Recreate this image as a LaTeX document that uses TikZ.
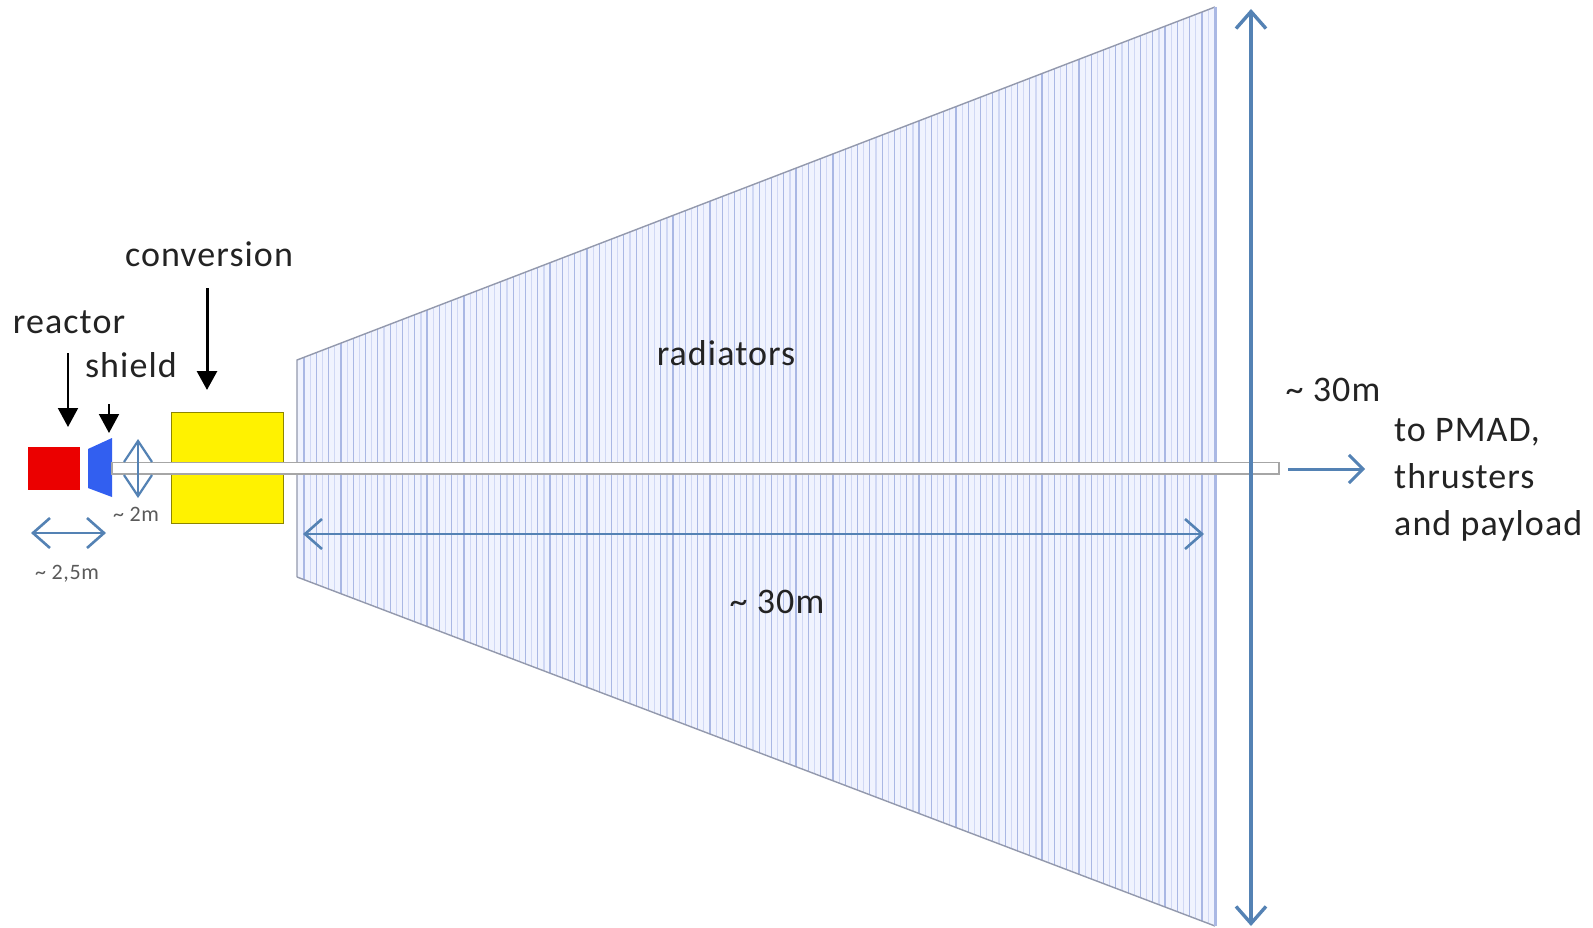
\documentclass[tikz,border=0pt]{standalone}
\usepackage{fontspec}
\setmainfont[LetterSpace=3]{Carlito}
\usetikzlibrary{arrows.meta}
\definecolor{dimblue}{RGB}{84,130,180}
\definecolor{hatchblue}{RGB}{170,184,228}
\definecolor{hatchpale}{RGB}{208,216,244}
\definecolor{panelblue}{RGB}{240,243,254}
\definecolor{shieldblue}{RGB}{50,95,240}
\definecolor{txt}{RGB}{35,35,35}
\tikzset{
 x=1pt,y=-1pt,
 lab/.style={inner sep=0pt,text=txt,font=\fontsize{36}{47.3}\selectfont,align=left},
 smalllab/.style={inner sep=0pt,text=txt!75,font=\fontsize{22}{26}\selectfont},
 dim/.style={draw=dimblue,line width=3.4pt,{Straight Barb[length=17pt,width=30pt,line width=3.4pt]}-{Straight Barb[length=17pt,width=30pt,line width=3.4pt]}},
 dimmid/.style={draw=dimblue,line width=2.6pt,{Straight Barb[length=17pt,width=30pt,line width=2.6pt]}-{Straight Barb[length=17pt,width=30pt,line width=2.6pt]}},
 dimthin/.style={draw=dimblue,line width=2.2pt,{Straight Barb[length=21pt,width=28pt,line width=2.2pt]}-{Straight Barb[length=21pt,width=28pt,line width=2.2pt]}},
 dimone/.style={draw=dimblue,line width=3pt,-{Straight Barb[length=14pt,width=28pt,line width=3pt]}},
 pointer/.style={draw=black,line width=3pt,-{Triangle[length=19pt,width=20pt]}},
 pointerthin/.style={draw=black,line width=2pt,-{Triangle[length=19pt,width=20pt]}},
 hatch/.style={draw=hatchblue,line width=1.2pt},
 hatchlight/.style={draw=hatchpale,line width=1.2pt},
}
\begin{document}
\begin{tikzpicture}
\useasboundingbox (0,0) rectangle (1593,928);
\fill[white] (0,0) rectangle (1593,928);
% radiators
\fill[panelblue] (297,360) -- (1215,7) -- (1215,926) -- (297,577) -- cycle;
\begin{scope}
\clip (297,360) -- (1215,7) -- (1215,926) -- (297,577) -- cycle;
\foreach \i in {0,...,74}{
  \pgfmathsetmacro{\xx}{304+12.3*\i}
  \pgfmathsetmacro{\xy}{\xx+6.2}
  \draw[hatch] (\xx,0) -- (\xx,928);
  \draw[hatchlight] (\xy,0) -- (\xy,928);
}
\end{scope}
\draw[draw=gray!55!hatchblue,line width=1.4pt] (297,577) -- (297,360) -- (1215,7);
\draw[draw=gray!55!hatchblue,line width=1.4pt] (297,577) -- (1215,926);
\draw[draw=hatchblue,line width=3pt] (1215,7) -- (1215,926);
% bodies
\fill[red!92!black] (28,447) rectangle (80,490);
\fill[shieldblue] (88,449) -- (112,438) -- (112,497) -- (88,488) -- cycle;
\draw[draw=olive,fill=yellow,line width=1pt] (171,412) rectangle (283,523);
% rod
\draw[draw=gray!70,fill=white,line width=1.8pt] (112,462.5) rectangle (1279,474);
% labels
\node[lab,anchor=center] (conv) at (209,254) {conversion};
\node[lab,anchor=center] (reac) at (69,322) {reactor};
\node[lab,anchor=center] (shld) at (131,365) {shield};
\node[lab,anchor=center] (rad) at (726,353) {radiators};
\node[lab,anchor=center] (w30) at (777,602) {\textasciitilde{} 30m};
\node[lab,anchor=center] (h30) at (1333,390) {\textasciitilde{} 30m};
\node[lab,anchor=north west] (pm) at (1394,418) {to PMAD,\\thrusters\\and payload};
\node[smalllab] (s2) at (136,514) {\textasciitilde{} 2m};
\node[smalllab] (s25) at (67,574) {\textasciitilde{} 2,5m};
% pointers
\coordinate (p1a) at (207,288); \coordinate (p1b) at (207,390);
\coordinate (p2a) at (68,353); \coordinate (p2b) at (68,427);
\coordinate (p3a) at (109,404); \coordinate (p3b) at (109,433);
\draw[pointer] (p1a) -- (p1b);
\draw[pointerthin] (p2a) -- (p2b);
\draw[pointerthin] (p3a) -- (p3b);
% dimensions
\coordinate (d1a) at (1251,9); \coordinate (d1b) at (1251,926);
\coordinate (d2a) at (303,534); \coordinate (d2b) at (1204,534);
\coordinate (d3a) at (31,533); \coordinate (d3b) at (106,533);
\coordinate (d4a) at (138,439); \coordinate (d4b) at (138,498);
\coordinate (d5a) at (1288,469); \coordinate (d5b) at (1365,469);
\draw[dim] (d1a) -- (d1b);
\draw[dimmid] (d2a) -- (d2b);
\draw[dimmid] (d3a) -- (d3b);
\draw[dimthin] (d4a) -- (d4b);
\draw[dimone] (d5a) -- (d5b);
\end{tikzpicture}
\end{document}
